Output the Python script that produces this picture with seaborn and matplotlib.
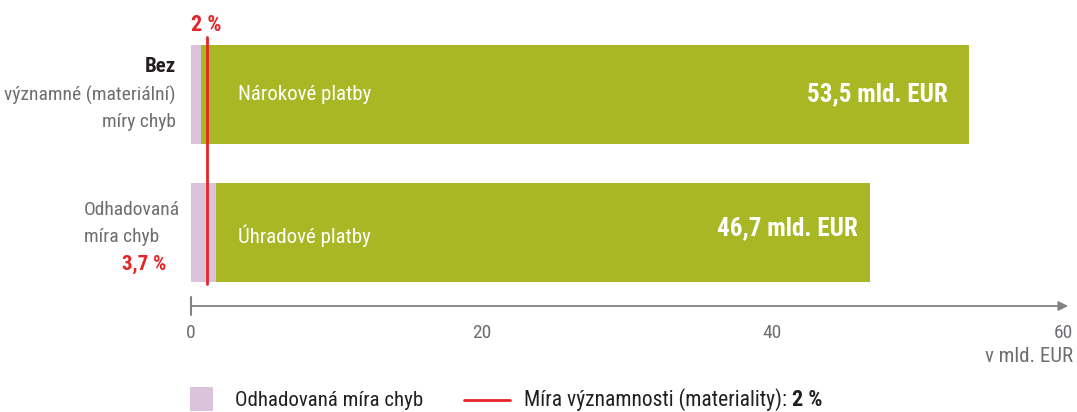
import matplotlib
matplotlib.use("Agg")
import matplotlib.pyplot as plt
import seaborn as sns
import pandas as pd
from matplotlib.patches import Rectangle
from matplotlib.lines import Line2D

# ---- data ----
categories = ["Nárokové platby", "Úhradové platby"]
totals = [53.5, 46.7]
error_part = [0.7, 1.73]
total_labels = ["53,5 mld. EUR", "46,7 mld. EUR"]
materiality_x = 1.07
xticks = [0, 20, 40, 60]

OLIVE = "#A8B723"
PINK = "#DCC3DC"
RED = "#E52528"
GRAY = "#6D6E71"
DARK = "#231F20"

sns.set_theme(style="white")
FONT = ["Roboto Condensed", "Liberation Sans Narrow", "DejaVu Sans"]
plt.rcParams["font.family"] = FONT
plt.rcParams["font.stretch"] = "condensed"

W, H = 1077, 412
fig = plt.figure(figsize=(W / 100, H / 100), dpi=100)

def fx(px):
    return px / W

def fy(py):
    return 1 - py / H

ax = fig.add_axes([fx(191), fy(306), fx(1063) - fx(191), fy(30) - fy(306)])

df = pd.DataFrame({"cat": categories, "total": totals, "err": error_part})
sns.barplot(data=df, x="total", y="cat", color=OLIVE, width=0.72, ax=ax,
            saturation=1, linewidth=0, orient="h")
sns.barplot(data=df, x="err", y="cat", color=PINK, width=0.72, ax=ax,
            saturation=1, linewidth=0, orient="h")

ax.set_xlim(0, 60)
ax.set_ylim(1.538, -0.469)
ax.axvline(materiality_x, ymin=(1.538 - 1.38) / 2.007, ymax=(1.538 + 0.42) / 2.007,
           color=RED, lw=2)

for s in ax.spines.values():
    s.set_visible(False)
ax.set_xlabel("")
ax.set_ylabel("")
ax.set_yticks([])
ax.set_xticks(xticks)
ax.set_xticklabels([str(t) for t in xticks], color=GRAY, fontsize=14)
ax.tick_params(axis="x", length=0, pad=13)

# axis line with arrow
ax.annotate("", xy=(60.35, 1.538), xytext=(0, 1.538), xycoords="data",
            arrowprops=dict(arrowstyle="-|>", color="#808285", lw=1.3,
                            mutation_scale=14, shrinkA=0, shrinkB=0),
            annotation_clip=False)
ax.plot([0, 0], [1.47, 1.60], color="#808285", lw=1.5, clip_on=False)

# bar texts
label_right = [52.1, 45.9]
for i, (cat, lab, xr) in enumerate(zip(categories, total_labels, label_right)):
    ax.text(3.2, i + (0.03 if i == 1 else 0), cat, color="white", fontsize=15,
            va="center", ha="left")
    ax.text(xr, i - (0.03 if i == 1 else 0), lab, color="white",
            fontsize=18, fontweight="bold", va="center", ha="right")

# red 2 % label
fig.text(fx(206), fy(25), "2 %", color=RED, fontsize=16, fontweight="bold",
         ha="center", va="center")

# left labels
fig.text(fx(176), fy(67), "Bez", color=DARK, fontsize=15, fontweight="bold",
         ha="right", va="center")
fig.text(fx(176), fy(95), "významné (materiální)", color=GRAY, fontsize=14,
         ha="right", va="center")
fig.text(fx(176), fy(122), "míry chyb", color=GRAY, fontsize=14,
         ha="right", va="center")
fig.text(fx(84), fy(210), "Odhadovaná", color=GRAY, fontsize=14,
         ha="left", va="center")
fig.text(fx(84), fy(237), "míra chyb", color=GRAY, fontsize=14,
         ha="left", va="center")
fig.text(fx(166), fy(264), "3,7 %", color=RED, fontsize=15, fontweight="bold",
         ha="right", va="center")

fig.text(fx(1073), fy(357), "v mld. EUR", color=GRAY, fontsize=15,
         ha="right", va="center")

# legend
fig.patches.append(Rectangle((fx(190), fy(411)), fx(213) - fx(190), fy(387) - fy(411),
                             transform=fig.transFigure, facecolor=PINK, edgecolor="none"))
fig.text(fx(235), fy(400), "Odhadovaná míra chyb", color=DARK, fontsize=15,
         ha="left", va="center")
fig.lines.append(Line2D([fx(464), fx(510)], [fy(400), fy(400)],
                        transform=fig.transFigure, color=RED, lw=2))
t = fig.text(fx(524), fy(400), "Míra významnosti (materiality): ", color=DARK,
             fontsize=15.5, ha="left", va="center")
fig.canvas.draw()
bb = t.get_window_extent()
fig.text(bb.x1 / W, fy(400), "2 %", color=DARK, fontsize=16, fontweight="bold",
         ha="left", va="center")

fig.savefig("out.png", dpi=100)
